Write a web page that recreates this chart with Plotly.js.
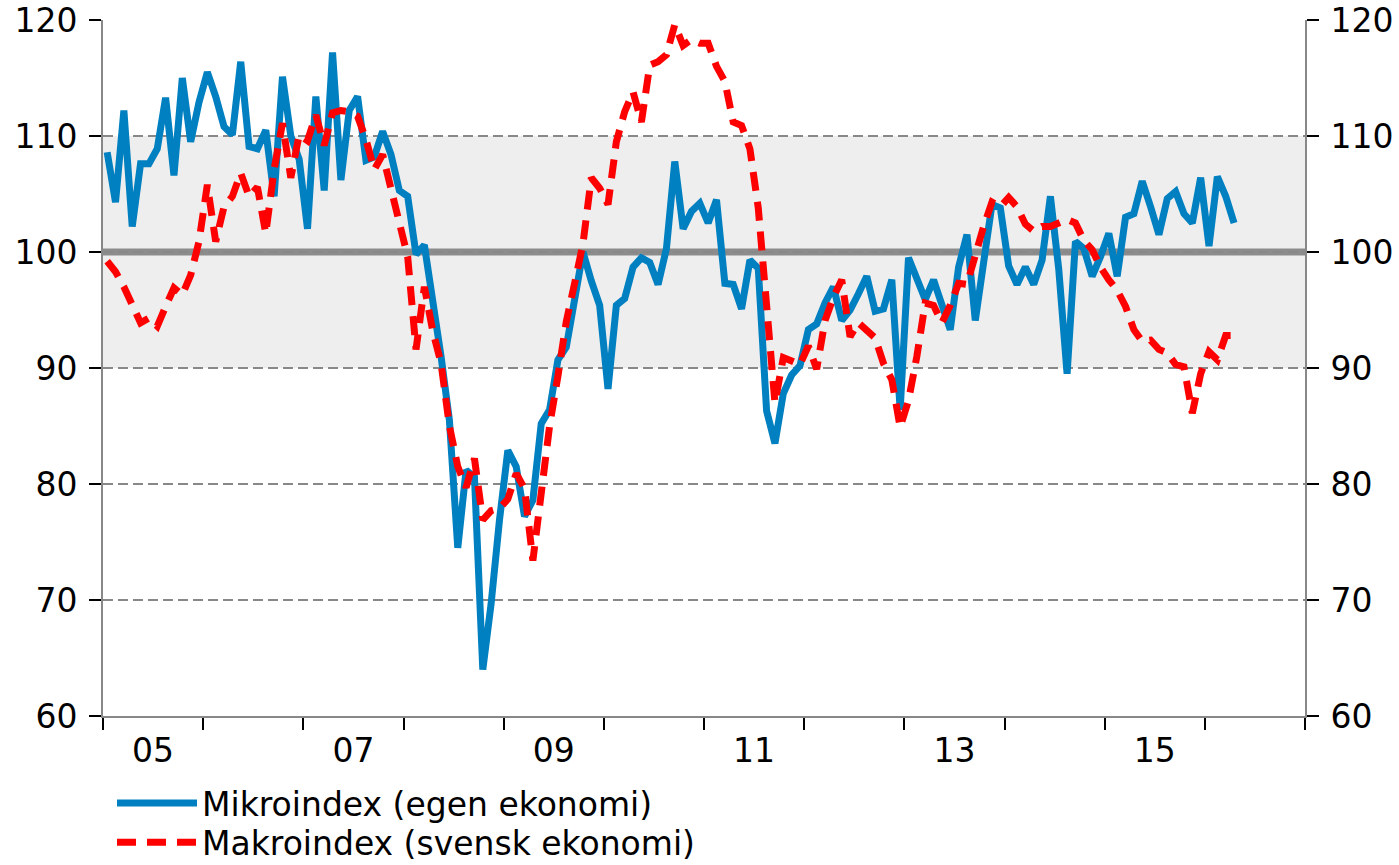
<!DOCTYPE html>
<html><head><meta charset="utf-8">
<script src="https://cdn.plot.ly/plotly-3.0.1.min.js"></script>
<style>html,body{margin:0;padding:0;background:#fff}#chart{width:1399px;height:865px}</style>
</head><body><div id="chart"></div>
<script>
// Monthly data, starting January 2005
const startYear = 2005;
const mikroindex = [
  108.6,104.3,112.2,102.2,107.6,107.6,108.9,113.3,106.6,115.0,109.5,112.9,
  115.5,113.4,110.8,110.1,116.4,109.1,108.9,110.5,104.8,115.1,110.0,108.0,
  102.0,113.4,105.3,117.2,106.2,112.2,113.4,107.9,108.2,110.4,108.4,105.3,
  104.8,99.8,100.6,96.1,91.0,85.5,74.5,81.2,80.6,64.0,69.7,76.9,
  82.9,81.5,77.2,78.6,85.2,86.4,90.7,91.8,96.0,100.0,97.5,95.4,
  88.2,95.4,96.0,98.7,99.5,99.1,97.2,100.3,107.8,102.0,103.5,104.2,
  102.5,104.5,97.3,97.2,95.1,99.3,98.6,86.3,83.5,87.8,89.4,90.2,
  93.3,93.8,95.6,97.0,94.1,95.0,96.4,97.9,94.9,95.1,97.6,86.4,
  99.5,97.6,95.9,97.6,95.6,93.3,98.7,101.5,94.1,99.3,104.1,103.8,
  98.8,97.2,98.7,97.2,99.3,104.8,98.5,89.5,100.9,100.3,97.9,99.6,
  101.6,97.9,103.0,103.3,106.1,103.9,101.5,104.6,105.2,103.3,102.5,106.4,
  100.5,106.5,104.8,102.5
];
const makroindex = [
  99.2,98.3,97.0,95.6,93.9,94.3,93.6,95.3,96.9,96.3,98.0,100.9,
  105.8,100.9,103.9,104.8,106.8,104.8,105.6,101.6,107.1,111.1,106.4,110.1,
  109.6,111.8,109.2,112.0,112.2,112.1,111.7,109.7,107.1,108.4,105.6,103.0,
  99.6,91.6,97.0,93.2,90.4,85.0,81.5,79.7,82.2,76.9,77.7,77.9,
  78.7,80.9,79.6,73.4,79.0,85.0,89.3,94.0,97.3,100.7,106.4,105.5,
  104.1,109.5,112.1,113.8,111.2,116.1,116.4,117.0,119.6,117.8,118.3,118.0,
  118.0,116.0,114.7,111.2,110.9,108.9,103.8,96.0,87.0,90.9,90.6,90.3,
  91.9,89.9,94.1,96.1,97.6,92.7,93.9,93.3,92.6,90.4,89.0,84.9,
  87.2,91.0,95.6,95.4,93.9,95.4,97.3,97.2,99.9,102.2,104.3,103.9,
  104.7,103.9,102.4,101.8,102.2,102.2,102.5,102.8,102.5,101.0,100.2,98.7,
  97.6,96.7,95.3,93.3,92.3,92.4,91.6,91.3,90.3,90.1,86.1,89.5,
  91.4,90.7,92.8,92.8
];
const seriesNames = ['Mikroindex (egen ekonomi)', 'Makroindex (svensk ekonomi)'];
const yearBoundaries = [2005,2006,2007,2008,2009,2010,2011,2012,2013,2014,2015,2016,2017];
const xLabelPos = [2005.5,2007.5,2009.5,2011.5,2013.5,2015.5];
const xLabelText = ['05','07','09','11','13','15'];
const yTicks = [60,70,80,90,100,110,120];

const xMikro = mikroindex.map((_, i) => startYear + (i + 0.5) / 12);
const xMakro = makroindex.map((_, i) => startYear + (i + 0.5) / 12);

const FONT = 'DejaVu Sans, Verdana, sans-serif';
const AX = '#888888';

const traces = [
  {x: xMikro, y: mikroindex, type: 'scatter', mode: 'lines', name: seriesNames[0],
   line: {color: '#0080c0', width: 7}, xaxis: 'x', yaxis: 'y', legend: 'legend'},
  {x: xMakro, y: makroindex, type: 'scatter', mode: 'lines', name: seriesNames[1],
   line: {color: '#ff0000', width: 7, dash: '19px,11px'}, xaxis: 'x', yaxis: 'y2', legend: 'legend2'}
];

const yCommon = {
  range: [60, 120], tickmode: 'array', tickvals: yTicks,
  ticks: 'outside', ticklen: 12, tickwidth: 2, tickcolor: '#000',
  showline: true, linecolor: AX, linewidth: 2, zeroline: false, automargin: false,
  tickfont: {family: FONT, size: 33, color: '#000'}, ticklabelstandoff: 5, fixedrange: true
};

const legendCommon = {
  x: 0.0075, xanchor: 'left', yref: 'container', yanchor: 'top', orientation: 'v',
  font: {family: FONT, size: 33, color: '#000'}, bgcolor: 'rgba(0,0,0,0)',
  itemwidth: 80, tracegroupgap: 0
};

const layout = {
  width: 1399, height: 865,
  margin: {l: 103, r: 94, t: 20, b: 149, pad: 0, autoexpand: false},
  paper_bgcolor: '#fff', plot_bgcolor: 'rgba(0,0,0,0)',
  font: {family: FONT, size: 33, color: '#000'},
  showlegend: true,
  legend: Object.assign({}, legendCommon, {y: 0.104}),
  legend2: Object.assign({}, legendCommon, {y: 0.0585}),
  xaxis: {
    range: [2005, 2017], tickmode: 'array', tickvals: xLabelPos, ticktext: xLabelText,
    ticks: '', showline: true, linecolor: AX, linewidth: 2, showgrid: false, zeroline: false,
    automargin: false,
    tickfont: {family: FONT, size: 33, color: '#000'}, ticklabelstandoff: 4,
    minor: {tickmode: 'array', tickvals: yearBoundaries, ticks: 'outside', ticklen: 12,
            tickwidth: 2, tickcolor: '#000', showgrid: false},
    fixedrange: true
  },
  yaxis: Object.assign({}, yCommon, {
    side: 'left', showgrid: true, gridcolor: AX, gridwidth: 2, griddash: '10px,5px'
  }),
  yaxis2: Object.assign({}, yCommon, {
    side: 'right', overlaying: 'y', showgrid: false
  }),
  shapes: [
    {type: 'rect', xref: 'paper', x0: 0, x1: 1, yref: 'y', y0: 90, y1: 110,
     fillcolor: '#eeeeee', line: {width: 0}, layer: 'below'},
    {type: 'line', xref: 'paper', x0: 0, x1: 1, yref: 'y', y0: 100, y1: 100,
     line: {color: '#8c8c8c', width: 7}, layer: 'between'}
  ]
};

Plotly.newPlot('chart', traces, layout, {staticPlot: true, displayModeBar: false});
</script>
</body></html>
